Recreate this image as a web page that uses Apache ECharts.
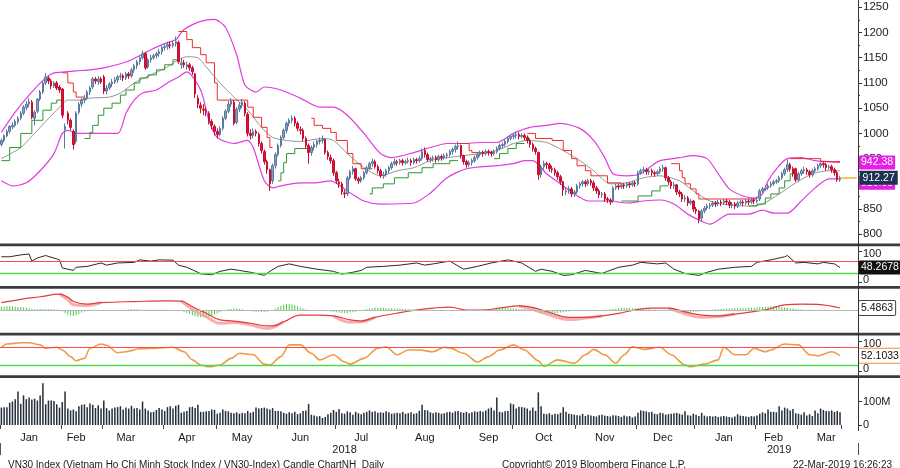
<!DOCTYPE html>
<html>
<head>
<meta charset="utf-8">
<script src="https://cdn.jsdelivr.net/npm/echarts/dist/echarts.min.js"></script>
<style>html,body{margin:0;padding:0;background:#fff}#c{width:900px;height:468px}</style>
</head>
<body>
<div id="c"></div>
<script>
// ---------------- DATA ----------------
// Trading days: 0 = 2-Jan-2018 ... 303 = 22-Mar-2019
const opens = [
978,986,995,1004,1013,1016,1023,1030,1040,1051,
1058,1062,1030,1044,1068,1082,1100,1110,1104,1094,
1100,1092,1088,1008,1040,1026,1004,984,1042,1058,
1066,1070,1082,1092,1108,1102,1108,1112,1084,1090,
1098,1102,1106,1112,1114,1110,1118,1114,1126,1134,
1142,1150,1158,1132,1146,1150,1154,1158,1162,1170,
1172,1176,1174,1178,1180,1136,1140,1132,1136,1130,
1118,1070,1056,1048,1044,1040,1024,1014,1004,998,
1010,1030,1044,1058,1062,1022,1048,1056,1060,1038,
1000,996,1004,998,980,964,944,928,906,936,
958,976,992,1006,1020,1026,1030,1020,1008,1006,
990,976,962,972,978,984,986,988,962,952,
946,922,904,900,882,880,912,924,930,910,
906,912,922,932,940,944,934,926,916,918,
926,932,940,944,942,946,942,944,946,942,
948,946,950,966,958,948,950,952,948,954,
952,956,958,964,968,974,976,956,944,938,
942,946,952,958,962,960,964,962,960,964,
970,976,978,984,990,994,996,998,994,996,
992,986,978,970,962,918,934,940,938,930,
928,922,914,904,884,886,890,880,884,896,
900,904,900,906,902,892,886,878,880,870,
868,866,892,896,894,898,896,900,898,902,
900,922,926,928,924,926,922,920,924,930,
932,912,904,896,898,884,880,870,872,862,
866,850,846,832,846,852,856,858,862,860,
864,862,866,864,858,860,856,862,864,862,
866,864,868,866,870,886,890,892,896,900,
904,906,912,920,928,938,930,930,908,920,
926,928,924,918,926,930,936,940,938,932,
934,928,922,908];
const closes = [
986,996,1004,1014,1016,1024,1030,1040,1052,1058,
1062,1032,1042,1068,1082,1100,1112,1104,1094,1100,
1090,1086,1036,1014,1026,1012,978,1040,1058,1066,
1070,1082,1090,1108,1104,1108,1102,1084,1090,1098,
1102,1106,1112,1114,1110,1118,1114,1126,1134,1142,
1150,1158,1130,1146,1150,1154,1158,1162,1170,1172,
1176,1174,1178,1182,1142,1140,1136,1136,1130,1122,
1078,1058,1050,1046,1042,1024,1016,1004,998,1010,
1030,1044,1058,1064,1020,1048,1056,1062,1040,1000,
996,1004,1000,980,966,944,928,900,936,958,
976,992,1006,1020,1026,1030,1020,1010,1006,990,
976,962,972,978,984,986,988,962,954,946,
922,906,900,884,880,912,924,930,910,906,
912,922,932,940,944,934,926,916,918,926,
932,940,944,942,946,942,944,946,942,948,
946,950,964,958,948,950,952,948,954,952,
956,958,964,968,974,976,956,944,938,942,
946,952,958,962,960,964,962,960,964,970,
976,978,984,990,994,996,998,994,996,992,
986,978,970,964,918,934,940,938,930,928,
922,914,904,888,886,890,880,884,896,900,
904,900,906,902,892,886,878,880,870,868,
864,892,896,894,898,896,900,898,902,900,
922,926,928,924,926,922,920,924,930,932,
912,904,896,898,884,880,870,872,862,866,
850,846,830,846,852,856,858,862,860,864,
862,866,864,858,860,856,862,864,862,866,
864,868,866,868,886,890,892,896,900,904,
906,912,920,928,938,930,920,908,920,926,
928,924,918,926,930,936,940,938,932,934,
928,922,908,912.27];
const lows = [
974,982,992,1000,1008,1012,1018,1026,1036,1046,
1052,1028,1016,1040,1064,1078,1096,1098,1088,1090,
1086,1080,1030,970,1018,1006,968,980,1038,1052,
1060,1066,1076,1088,1098,1096,1098,1078,1078,1086,
1092,1098,1100,1106,1104,1106,1108,1110,1120,1128,
1136,1146,1126,1128,1140,1146,1148,1152,1156,1164,
1166,1168,1170,1172,1138,1128,1130,1126,1124,1116,
1070,1050,1040,1036,1034,1018,1008,996,990,994,
1006,1026,1040,1052,1016,1018,1042,1050,1034,994,
988,990,994,974,960,938,920,886,900,930,
954,972,988,1000,1014,1020,1014,1004,998,984,
970,940,956,966,972,978,980,958,948,940,
916,900,892,878,872,876,908,918,906,900,
902,908,918,928,934,930,920,912,910,914,
920,928,936,936,938,936,938,940,936,938,
940,942,946,952,944,942,944,942,944,946,
948,950,954,958,962,968,950,938,932,934,
936,942,948,954,954,956,956,954,956,960,
966,970,974,980,986,988,990,988,990,986,
980,972,964,958,908,912,928,930,924,922,
916,908,898,876,878,880,874,874,880,890,
894,894,896,896,886,880,872,872,864,862,
858,862,888,888,890,890,892,892,894,894,
896,918,920,918,918,916,914,916,920,924,
906,898,890,890,878,874,864,864,856,858,
844,840,822,826,842,848,850,854,854,856,
856,858,858,852,852,850,852,858,856,858,
858,860,860,862,866,882,886,888,892,896,
900,902,908,916,924,924,914,904,904,916,
920,918,912,914,922,926,932,932,926,928,
922,916,904,904];
const highs = [
990,998,1008,1016,1022,1028,1034,1044,1056,1064,
1070,1066,1046,1070,1086,1104,1120,1114,1108,1104,
1104,1096,1090,1020,1044,1030,1008,1044,1062,1070,
1076,1086,1094,1112,1112,1114,1112,1116,1096,1102,
1108,1112,1116,1120,1118,1122,1122,1130,1138,1146,
1154,1164,1162,1150,1156,1158,1162,1168,1174,1178,
1182,1182,1184,1192,1184,1150,1146,1142,1140,1134,
1120,1076,1062,1058,1052,1044,1028,1018,1010,1014,
1034,1048,1064,1070,1066,1052,1062,1068,1064,1042,
1008,1010,1008,1002,984,968,948,930,940,962,
980,996,1010,1024,1030,1036,1034,1024,1014,1010,
994,980,976,984,988,992,996,990,966,958,
950,926,910,904,888,916,928,936,932,914,
916,926,936,944,950,948,938,930,924,930,
936,944,950,948,950,950,948,952,950,952,
952,956,970,972,962,954,956,956,958,958,
960,962,968,972,978,984,978,958,948,946,
950,956,962,966,966,968,968,966,968,974,
980,982,988,994,998,1000,1004,1002,1000,1000,
996,990,982,974,964,938,946,944,942,936,
932,926,918,906,892,896,894,888,900,904,
908,908,910,910,906,896,890,884,884,874,
872,896,900,900,902,902,904,904,906,906,
926,930,934,932,930,930,926,928,934,938,
934,916,908,904,900,888,884,878,876,870,
868,854,848,850,856,860,862,866,866,868,
868,870,870,868,864,864,866,868,868,870,
870,872,872,874,890,894,898,900,904,908,
910,916,924,932,948,942,934,932,924,930,
934,932,928,930,934,940,944,944,942,938,
938,932,926,916];
// Volume in millions
const volumes = [
74,76,76,95,100,110,143,90,126,110,117,108,112,104,126,178,88,104,104,102,88,74,
98,143,70,62,66,58,80,86,88,76,92,86,72,84,70,
104,72,62,70,74,76,80,66,74,70,82,70,72,66,100,70,62,54,56,64,72,66,
60,76,80,70,82,86,52,56,60,76,78,72,86,56,56,58,60,66,64,
48,52,66,60,58,52,50,54,48,52,50,60,52,56,74,70,72,74,70,66,72,60,
60,58,52,48,54,50,56,46,50,60,62,90,44,40,36,38,30,34,46,52,64,
56,68,50,48,58,54,44,56,50,46,52,56,62,56,58,52,54,52,58,54,48,50,
52,50,56,48,50,54,48,50,60,86,64,62,54,50,54,52,48,50,54,56,52,58,60,
54,52,56,50,54,58,56,60,56,62,70,74,62,117,56,54,58,60,92,
88,70,78,76,74,70,62,74,60,139,80,48,46,50,44,48,46,52,76,56,48,46,44,
42,40,48,38,44,40,38,36,42,44,40,38,36,42,40,38,34,40,36,38,32,36,
52,62,60,58,54,56,48,46,52,50,44,46,48,50,52,48,44,58,42,40,48,
44,38,52,40,36,38,36,38,34,36,38,36,34,32,36,46,40,38,36,34,38,36,
40,48,54,50,66,56,56,54,80,62,74,70,62,68,50,
48,44,54,40,46,38,62,50,70,64,60,58,62,56,60,53.92];
// Bollinger bands and moving average: [tradingDay, value]
const upperBand = [[0,1002],[5,1042],[10,1076],[16,1110],[19,1120],[23,1122],[27,1124],[32,1126],[37,1130],[43,1138],[47,1146],[54,1166],[59,1178],[63,1186],[66,1206],[72,1222],[77,1226],[81,1210],[85,1156],[88,1096],[92,1082],[95,1092],[101,1086],[108,1070],[115,1052],[120,1052],[125,1036],[131,1000],[137,960],[141,952],[149,962],[155,972],[161,980],[167,980],[173,982],[179,982],[185,1000],[191,1012],[197,1016],[202,1020],[209,1010],[214,986],[218,952],[221,920],[226,916],[231,920],[235,936],[238,946],[245,952],[250,956],[255,950],[259,920],[263,890],[268,876],[272,872],[275,880],[277,906],[281,936],[284,950],[289,952],[294,946],[303,942.38]];
const lowerBand = [[0,906],[4,896],[9,902],[14,926],[19,960],[22,1000],[24,1006],[28,1000],[32,1000],[42,1000],[45,1040],[48,1066],[51,1080],[56,1086],[60,1100],[64,1112],[67,1122],[72,1086],[75,1026],[78,992],[84,980],[89,986],[91,972],[95,906],[98,892],[101,896],[108,902],[113,902],[119,906],[125,886],[131,866],[137,860],[149,862],[155,882],[161,912],[168,930],[179,936],[185,940],[189,946],[192,946],[197,920],[202,900],[207,880],[212,866],[220,866],[226,862],[232,866],[238,868],[243,860],[248,840],[253,826],[256,820],[263,840],[270,840],[275,848],[279,842],[284,842],[289,866],[294,892],[299,910],[303,910]];
const midBand = [[0,950],[7,972],[14,1012],[21,1052],[24,1066],[28,1066],[32,1070],[39,1072],[43,1080],[48,1100],[54,1116],[60,1132],[64,1146],[67,1152],[71,1150],[74,1132],[79,1100],[84,1072],[89,1046],[94,1012],[98,992],[103,986],[108,984],[116,990],[120,986],[125,960],[131,932],[137,916],[143,926],[149,932],[155,946],[161,952],[167,956],[173,960],[179,966],[185,980],[190,986],[197,982],[203,966],[209,946],[214,926],[220,900],[226,902],[232,912],[238,916],[245,906],[250,886],[256,866],[263,858],[270,856],[275,860],[281,880],[287,902],[293,920],[299,926],[303,926]];
// Stop lines (red above price, green below): each segment [tradingDay, level]
const redStops = [
 [[22,1120],[24,1100],[26,1082],[27,1072],[30,1072]],
 [[64,1202],[67,1186],[69,1170],[72,1156],[74,1140],[77,1100],[78,1066],[86,1066],[89,1052],[91,1032],[94,1012],[96,992],[97,972],[98,972]],
 [[112,1030],[113,1016],[116,1010],[119,1002],[121,986],[125,960],[127,940],[130,930],[134,930]],
 [[165,980],[169,966],[170,962],[177,962]],
 [[190,1000],[193,990],[199,986],[203,966],[206,950],[208,936],[211,926],[213,916],[219,902],[224,902]],
 [[242,940],[245,926],[246,912],[247,900],[249,890],[251,880],[252,870],[273,870]],
 [[285,950],[296,944],[303,944]]
];
const greenStops = [
 [[0,946],[3,972],[7,1000],[11,1026],[15,1046],[18,1060],[20,1066],[22,1076]],
 [[30,990],[32,1002],[33,1016],[35,1036],[37,1050],[40,1060],[43,1076],[45,1086],[48,1100],[50,1110],[53,1116],[56,1126],[59,1136],[62,1146],[64,1150]],
 [[100,906],[101,922],[102,942],[103,960],[106,970],[112,970]],
 [[133,880],[134,892],[138,900],[142,912],[147,922],[152,932],[156,940],[162,946],[165,946]],
 [[178,950],[180,960],[183,970],[186,980],[189,980]],
 [[224,866],[230,876],[235,886],[238,896],[241,896]],
 [[270,856],[273,860],[276,872],[278,880],[281,892],[283,906],[285,920],[287,920]]
];
// RSI
const rsi = [[0,83],[3,83],[7,89],[10,92],[11,69],[13,79],[16,87],[20,76],[21,73],[22,47],[24,43],[26,39],[27,49],[31,52],[36,63],[38,56],[42,63],[48,65],[50,73],[54,69],[57,73],[62,72],[64,56],[67,49],[71,33],[72,28],[76,25],[79,36],[83,43],[86,39],[90,33],[95,23],[97,36],[100,52],[104,60],[108,52],[114,43],[120,36],[123,27],[127,33],[130,39],[132,49],[138,52],[144,56],[150,63],[153,56],[156,60],[162,69],[167,43],[172,52],[177,63],[183,73],[188,63],[193,36],[195,43],[199,36],[203,23],[206,25],[211,39],[217,29],[219,36],[223,49],[228,56],[231,65],[237,60],[240,63],[243,43],[247,29],[252,23],[255,33],[259,43],[265,49],[271,52],[273,65],[278,73],[283,83],[284,87],[287,63],[290,65],[295,60],[297,65],[301,60],[303,48.2678]];
const rsiLevels = [70, 30];
// MACD
const macdLine = [[0,20],[7,29],[14,36],[21,43],[24,35],[26,23],[31,16],[36,20],[48,23],[60,25],[65,24],[69,9],[74,-9],[79,-27],[84,-30],[90,-36],[96,-43],[98,-43],[102,-32],[108,-14],[114,-14],[120,-16],[126,-27],[130,-30],[135,-20],[144,-7],[150,0],[156,5],[162,8],[168,0],[174,0],[180,5],[187,11],[193,5],[199,-9],[205,-20],[211,-20],[217,-16],[223,-9],[229,0],[235,5],[241,5],[247,-5],[253,-14],[259,-16],[265,-11],[271,-5],[277,2],[283,14],[289,16],[295,15],[303,5.4863]];
// Signal line: only the parts where it separates visibly from the MACD line
const signalSegments = [
 [[21,43],[24,28],[26,14],[31,12],[36,20]],
 [[65,24],[69,2],[74,-18],[79,-36],[84,-34],[90,-40],[96,-50],[98,-48],[102,-32]],
 [[120,-16],[126,-33],[130,-32],[135,-20]],
 [[187,11],[193,0],[199,-16],[205,-26],[211,-22],[217,-16]],
 [[241,5],[247,-10],[253,-20],[259,-18],[265,-11]]
];
const macdHist = [
8,9,10,10,9,9,8,8,7,6,5,
3,2,2,3,3,3,2,2,2,1,1,
-4,-8,-12,-15,-16,-14,-11,-7,-4,
0,1,1,1,1,0,1,1,1,1, 1,1,1,1,1,2,2,2,2,1, 1,1,1,1,1,1,1,1,1,1,1,0,0,-1,
-3,-5,-8,-11,-14,-17,-19,-20,-20,-19,-17,-15,-12,-9,-6,
-3,0,2,3,4,4,3,2,0,
-2,-3,-4,-5,-5,-6,-6,-5,-3,0,4,
8,11,14,16,16,15,13,10,7,4,
2,0,0,1,1,0,-1,-2,-3,-4,
-5,-6,-7,-8,-8,-8,-7,-6,-5,-3,-1,1,
3,4,5,6,6,6,6,5,5,5,4,4,4,3,3,3,2,2,
2,2,2,1,1,1,1,1,0,0,0,-1,
-1,-2,-3,-3,-3,-3,-2,-2,-1,
0,1,1,2,2,3,3,
4,4,5,5,5,5,5,4,4,3,3,2,1,
-1,-3,-5,-8,-10,-10,-10,-10,-9,-9,-8,-7,-6,-5,-4,-3,-2,
-2,-1,-1,-1,0,0,0,-1,-1,0,0,1,
2,3,4,5,6,6,6,6,5,5,4,4,3,2,2,1,
1,0,0,0,-1,-1,-2,-2,-3,
-4,-5,-6,-6,-6,-5,-5,-4,-3,-2,-1,0,
1,2,2,3,3,4,4,4,5,5,5,5,5,6,6,6,7,8,8,9,9,10,10,10,9,8,7,6,5,4,3,2,
2,1,1,1,0,0,0,1,1,1,0,0,-1,-1,-1];
// Stochastic
const stoch = [[0,80],[2,91],[7,95],[10,95],[14,88],[16,77],[20,80],[22,71],[25,49],[27,35],[30,43],[32,77],[36,91],[38,87],[42,62],[45,65],[50,75],[56,77],[62,80],[66,65],[69,38],[72,21],[75,15],[79,21],[83,43],[86,60],[91,55],[95,24],[97,21],[101,49],[104,88],[108,88],[112,60],[115,38],[120,55],[124,31],[126,24],[131,43],[136,77],[139,82],[143,55],[147,71],[151,71],[156,65],[160,80],[162,78],[167,60],[172,31],[176,49],[180,71],[185,88],[189,71],[194,35],[196,16],[201,38],[207,27],[211,55],[214,73],[218,55],[222,27],[225,55],[228,82],[232,73],[238,80],[242,55],[247,21],[249,15],[254,24],[259,38],[261,80],[265,55],[269,55],[272,77],[276,65],[278,71],[283,91],[288,88],[292,55],[295,52],[300,65],[303,52.1033]];
const stochLevels = [80, 20];
// Axis text
const monthLabels = ['Jan','Feb','Mar','Apr','May','Jun','Jul','Aug','Sep','Oct','Nov','Dec','Jan','Feb','Mar'];
const monthLabelDays = [10,27,45,67,87,108,130,153,176,196,218,239,261,279,298];
const monthStartDays = [0,22,37,59,78,100,121,143,166,185,208,230,251,273,288,304];
const yearLabels = ['2018','2019'];
const yearLabelDays = [124,281];
const yearStartDays = [251];
const priceTicks = {min: 800, max: 1250, step: 50};
const footerLeft = 'VN30 Index (Vietnam Ho Chi Minh Stock Index / VN30-Index) Candle ChartNH  Daily';
const footerMid = 'Copyright\u00A9 2019 Bloomberg Finance L.P.';
const footerRight = '22-Mar-2019 16:26:23';

// ---------------- CHART ----------------
const SLOTS = 310;
const categories = Array.from({length: SLOTS}, (_, i) => String(i));
const candles = opens.map((o, i) => [o, closes[i], lows[i], highs[i]]);
const lastDay = closes.length - 1;
const FONT = 'Liberation Sans';
const txt = '#1a1a1a';

const chart = echarts.init(document.getElementById('c'), null, {renderer: 'canvas'});

const grids = [
  {left: 0, right: 42, top: 7.3, height: 227},   // price
  {left: 0, right: 42, top: 251.5, height: 31},   // RSI
  {left: 0, right: 42, top: 289, height: 42},     // MACD
  {left: 0, right: 42, top: 341.3, height: 30},   // Stoch
  {left: 0, right: 42, top: 378, height: 47}      // Volume
];

const hiddenX = gi => ({type: 'category', gridIndex: gi, data: categories, boundaryGap: true,
  axisLine: {show: false}, axisTick: {show: false}, axisLabel: {show: false}, splitLine: {show: false}});

const xAxes = [hiddenX(0), hiddenX(1), hiddenX(2), hiddenX(3),
  {type: 'category', gridIndex: 4, data: categories, boundaryGap: true,
   axisLine: {show: false},
   axisTick: {show: true, interval: (i) => monthStartDays.includes(i), length: 4, lineStyle: {color: '#444'}},
   axisLabel: {show: true, interval: (i) => monthLabelDays.includes(i), margin: 7,
     formatter: (v, i) => monthLabels[monthLabelDays.indexOf(i)] || '',
     fontFamily: FONT, fontSize: 11, color: txt}},
  {type: 'category', gridIndex: 4, data: categories, boundaryGap: true, position: 'bottom', offset: 18,
   axisLine: {show: false},
   axisTick: {show: true, interval: (i) => yearStartDays.includes(i), length: 12, lineStyle: {color: '#555'}},
   axisLabel: {show: true, interval: (i) => yearLabelDays.includes(i), margin: 1,
     formatter: (v, i) => yearLabels[yearLabelDays.indexOf(i)] || '',
     fontFamily: FONT, fontSize: 11, color: txt}}
];

const smallLbl = (hi, lo) => ({
  show: true, fontFamily: FONT, fontSize: 11, color: txt, margin: 5,
  formatter: v => v === hi ? '{t|' + hi + '}' : (v === lo ? '{b|' + lo + '}' : ''),
  rich: {t: {padding: [5, 0, 0, 0], fontFamily: FONT, fontSize: 11, color: txt},
         b: {padding: [0, 0, 5, 0], fontFamily: FONT, fontSize: 11, color: txt}}
});

const yAxes = [
  {type: 'value', gridIndex: 0, position: 'right', min: priceTicks.min, max: priceTicks.max, interval: priceTicks.step,
   axisLine: {show: false}, splitLine: {show: false},
   axisTick: {show: true, length: 4, lineStyle: {color: '#333'}},
   minorTick: {show: true, splitNumber: 2, length: 2, lineStyle: {color: '#333'}},
   axisLabel: {fontFamily: FONT, fontSize: 11.5, color: txt, margin: 5, formatter: v => String(v)}},
  {type: 'value', gridIndex: 1, position: 'right', min: 0, max: 100, interval: 100,
   axisLine: {show: false}, splitLine: {show: false},
   axisTick: {show: true, length: 4, lineStyle: {color: '#333'}}, axisLabel: smallLbl(100, 0)},
  {type: 'value', gridIndex: 2, position: 'right', min: -57, max: 57,
   axisLine: {show: false}, splitLine: {show: false}, axisTick: {show: false}, axisLabel: {show: false}},
  {type: 'value', gridIndex: 3, position: 'right', min: 0, max: 100, interval: 100,
   axisLine: {show: false}, splitLine: {show: false},
   axisTick: {show: true, length: 4, lineStyle: {color: '#333'}}, axisLabel: smallLbl(100, 0)},
  {type: 'value', gridIndex: 4, position: 'right', min: 0, max: 200, interval: 100,
   axisLine: {show: false}, splitLine: {show: false},
   axisTick: {show: true, length: 4, lineStyle: {color: '#333'}},
   axisLabel: {fontFamily: FONT, fontSize: 11, color: txt, margin: 5, showMaxLabel: false,
     formatter: v => v === 100 ? '100M' : (v === 0 ? '0' : '')}}
];

const boxLabel = (bg, fg, text, border, fs) => ({
  show: true, distance: 19, formatter: () => text,
  backgroundColor: bg, color: fg, padding: [2, 2, 1, 2], fontFamily: FONT, fontSize: fs || 10.5,
  borderColor: border || bg, borderWidth: border ? 1 : 0, borderRadius: 1
});

const series = [];
// Bollinger bands + average
series.push({type: 'line', name: 'upper', xAxisIndex: 0, yAxisIndex: 0, data: upperBand, symbol: 'none', smooth: 0.25,
  lineStyle: {color: '#e03ce0', width: 1.2}, z: 2,
  endLabel: boxLabel('#e51fe5', '#fff', upperBand[upperBand.length - 1][1].toFixed(2))});
series.push({type: 'line', name: 'lower', xAxisIndex: 0, yAxisIndex: 0, data: lowerBand, symbol: 'none', smooth: 0.25,
  lineStyle: {color: '#e03ce0', width: 1.2}, z: 2,
  endLabel: Object.assign(boxLabel('#e51fe5', '#fff', lowerBand[lowerBand.length - 1][1].toFixed(2)), {offset: [0, 4]})});
series.push({type: 'line', name: 'mid', xAxisIndex: 0, yAxisIndex: 0, data: midBand, symbol: 'none', smooth: 0.25,
  lineStyle: {color: '#959595', width: 1}, z: 2});
redStops.forEach(seg => series.push({type: 'line', xAxisIndex: 0, yAxisIndex: 0, data: seg, step: 'end', symbol: 'none',
  lineStyle: {color: '#ea2f28', width: 1}, z: 3}));
greenStops.forEach(seg => series.push({type: 'line', xAxisIndex: 0, yAxisIndex: 0, data: seg, step: 'end', symbol: 'none',
  lineStyle: {color: '#2f962f', width: 1}, z: 3}));
// Candles
series.push({type: 'candlestick', name: 'VN30', xAxisIndex: 0, yAxisIndex: 0, data: candles, barWidth: '72%', z: 5,
  itemStyle: {color: '#87a0c0', color0: '#df1238', borderColor: '#5c7aa0', borderColor0: '#c60f30', borderWidth: 1},
  markLine: {silent: true, symbol: 'none', z: 10,
    lineStyle: {color: '#f2b23c', width: 1.5, type: 'solid'},
    label: {show: true, position: 'end', distance: 3, formatter: () => closes[lastDay].toFixed(2),
      backgroundColor: '#1d3251', color: '#fff', padding: [2, 3, 1, 3], fontFamily: FONT, fontSize: 10.5},
    data: [[{coord: [lastDay, closes[lastDay]]}, {coord: [SLOTS - 1, closes[lastDay]]}]]}});
// RSI
series.push({type: 'line', name: 'RSI', xAxisIndex: 1, yAxisIndex: 1, data: rsi, symbol: 'none',
  lineStyle: {color: '#2a2a2a', width: 1}, z: 3,
  endLabel: boxLabel('#111', '#fff', rsi[rsi.length - 1][1].toFixed(4)),
  markLine: {silent: true, symbol: 'none', label: {show: false},
    data: [{yAxis: rsiLevels[0], lineStyle: {color: '#ff4a4a', width: 1, type: 'solid'}},
           {yAxis: rsiLevels[1], lineStyle: {color: '#4cdc4c', width: 1.4, type: 'solid'}}]}});
// MACD
series.push({type: 'bar', name: 'hist', xAxisIndex: 2, yAxisIndex: 2, data: macdHist, barWidth: 1,
  itemStyle: {color: '#3fcf3f'}, z: 2,
  markLine: {silent: true, symbol: 'none', label: {show: false},
    data: [{yAxis: 0, lineStyle: {color: '#b8b8b8', width: 1, type: 'solid'}}]}});
signalSegments.forEach(seg => series.push({type: 'line', xAxisIndex: 2, yAxisIndex: 2, data: seg, symbol: 'none', smooth: 0.4,
  lineStyle: {color: '#f7a0a0', width: 3, opacity: 0.85}, z: 3}));
series.push({type: 'line', name: 'macd', xAxisIndex: 2, yAxisIndex: 2, data: macdLine, symbol: 'none', smooth: 0.4,
  lineStyle: {color: '#e33a3a', width: 1.2}, z: 4,
  endLabel: boxLabel('#fff', '#111', macdLine[macdLine.length - 1][1].toFixed(4), '#444')});
// Stochastic
series.push({type: 'line', name: 'stoch', xAxisIndex: 3, yAxisIndex: 3, data: stoch, symbol: 'none',
  smooth: 0.3, smoothMonotone: 'x',
  lineStyle: {color: '#ef9a45', width: 1.6}, z: 3,
  endLabel: boxLabel('#fff', '#111', stoch[stoch.length - 1][1].toFixed(4), '#e8902e'),
  markLine: {silent: true, symbol: 'none', label: {show: false},
    data: [{yAxis: stochLevels[0], lineStyle: {color: '#ff4a4a', width: 1, type: 'solid'}},
           {yAxis: stochLevels[1], lineStyle: {color: '#4cdc4c', width: 1.4, type: 'solid'}}]}});
// Volume
series.push({type: 'bar', name: 'volume', xAxisIndex: 4, yAxisIndex: 4, data: volumes, barWidth: '55%',
  itemStyle: {color: '#26303c'}, z: 2,
  markLine: {silent: true, symbol: 'none', lineStyle: {opacity: 0},
    label: {show: true, position: 'end', distance: 1, formatter: () => volumes[lastDay].toFixed(3) + 'M',
      backgroundColor: '#1d3251', color: '#fff', padding: [2, 2, 1, 2], fontFamily: FONT, fontSize: 10},
    data: [[{coord: [lastDay, volumes[lastDay]]}, {coord: [SLOTS - 1, volumes[lastDay]]}]]}});

const sepYs = [243.5, 286, 332.8, 375.3];
const graphic = sepYs.map(y => ({type: 'rect', shape: {x: 0, y: y, width: 900, height: 2.8}, style: {fill: '#3c3c3c'}, z: 50}));
graphic.push({type: 'line', shape: {x1: 858.5, y1: 0, x2: 858.5, y2: 431}, style: {stroke: '#333', lineWidth: 1}, z: 50});

chart.setOption({
  animation: false,
  backgroundColor: '#fff',
  textStyle: {fontFamily: FONT},
  title: [
    {text: footerLeft, left: 3, top: 455, textStyle: {fontFamily: FONT, fontSize: 10, fontWeight: 'normal', color: txt}},
    {text: footerMid, left: 497, top: 455, textStyle: {fontFamily: FONT, fontSize: 10, fontWeight: 'normal', color: txt}},
    {text: footerRight, right: 3, top: 455, textStyle: {fontFamily: FONT, fontSize: 10, fontWeight: 'normal', color: txt}}
  ],
  grid: grids,
  xAxis: xAxes,
  yAxis: yAxes,
  series: series,
  graphic: graphic
});
</script>
</body>
</html>
